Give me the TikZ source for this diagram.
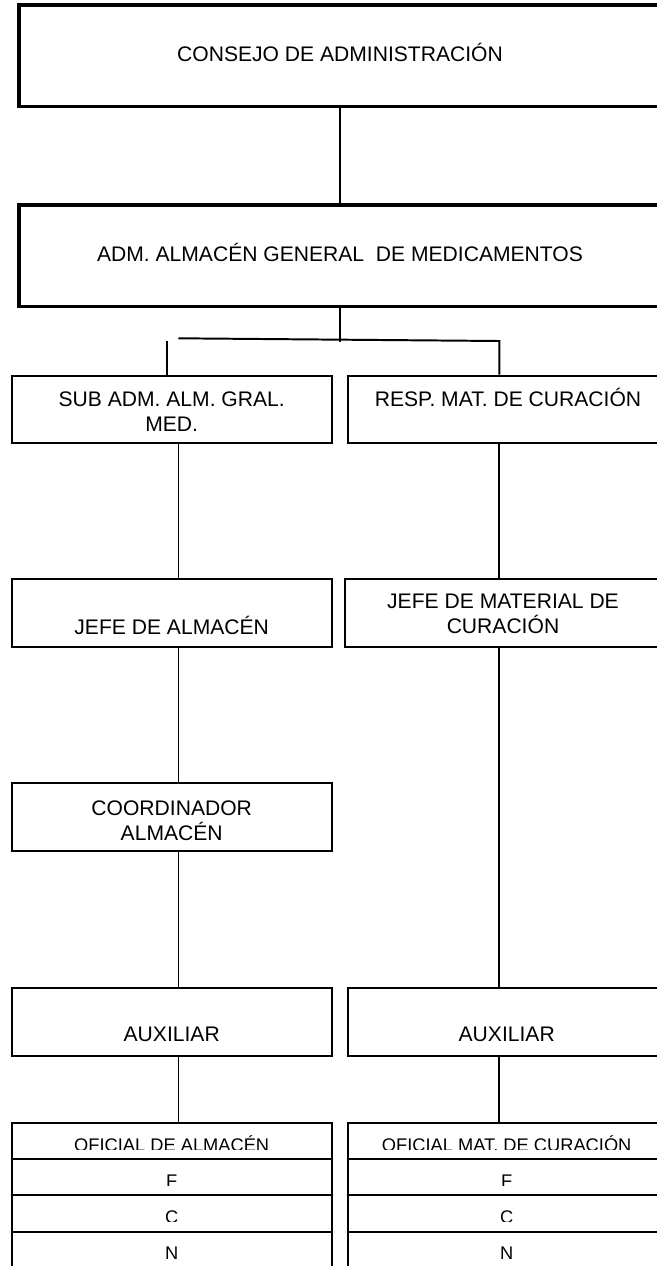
\documentclass[tikz,border=0pt]{standalone}
\usepackage{fontspec}
\setmainfont{Liberation Sans}
\usepackage{tikz}
\usetikzlibrary{calc,positioning,fit}

\tikzset{
  cajagruesa/.style={draw, line width=4.7pt, inner sep=0pt},
  caja/.style={draw, line width=2.8pt, inner sep=0pt},
  linea/.style={line width=2.8pt},
  txt/.style={font=\fontsize{30}{35.5}\selectfont, align=center, anchor=base, inner sep=0pt},
  celdatxt/.style={font=\fontsize{26}{30}\selectfont, anchor=base, inner sep=0pt}
}

\begin{document}
\begin{tikzpicture}[x=0.05cm,y=-0.05cm]
\useasboundingbox (0,0) rectangle (657,1266);
\clip (0,0) rectangle (657,1266);
\fill[white] (0,0) rectangle (657,1266);

\coordinate (colI) at (178.5,0);
\coordinate (colD) at (499.3,0);

\node[cajagruesa, fit={(19,5) (661,106.7)}] (consejo) {};
\node[txt] (consejoT) at (340,61.7) {CONSEJO DE ADMINISTRACIÓN};
\node[cajagruesa, fit={(19,205) (661,306.7)}] (adm) {};
\node[txt] (admT) at (340,261.7) {ADM. ALMACÉN GENERAL\ \ DE MEDICAMENTOS};

\node[caja, fit={(11.7,375.7) (331.7,442.7)}] (subadm) {};
\node[txt] (subadmT) at (171.7,431) {SUB ADM. ALM. GRAL.\\MED.};
\node[caja, fit={(348.3,375.7) (665,442.7)}] (resp) {};
\node[txt] (respT) at (508,406) {RESP. MAT. DE CURACIÓN};

\node[caja, fit={(11.7,579.3) (331.7,647.3)}] (jefealm) {};
\node[txt] (jefealmT) at (171.7,634) {JEFE DE ALMACÉN};
\node[caja, fit={(344.8,579.3) (665,647.3)}] (jefemat) {};
\node[txt] (jefematT) at (503,633) {JEFE DE MATERIAL DE\\CURACIÓN};

\node[caja, fit={(11.7,783.3) (331.7,851)}] (coord) {};
\node[txt] (coordT) at (171.7,840) {COORDINADOR\\ALMACÉN};

\node[caja, fit={(11.7,987.7) (331.7,1055.7)}] (auxI) {};
\node[txt] (auxIT) at (171.7,1041.7) {AUXILIAR};
\node[caja, fit={(348.3,987.7) (665,1055.7)}] (auxD) {};
\node[txt] (auxDT) at (506.7,1041.7) {AUXILIAR};

\foreach \t/\ya/\yb [count=\i] in {OFICIAL DE ALMACÉN/1123.3/1159.3, F/1159.3/1195, C/1195/1231.7, N/1231.7/1272} {
  \node[caja, fit={(11.7,\ya) (331.7,\yb)}] (ofiI\i) {};
  \begin{scope}
    \clip (11.7,\ya) rectangle (331.7,\yb-10);
    \node[celdatxt] (ofiIT\i) at (171.7,\ya+28) {\t};
  \end{scope}
}
\foreach \t/\ya/\yb [count=\i] in {OFICIAL MAT. DE CURACIÓN/1123.3/1159.3, F/1159.3/1195, C/1195/1231.7, N/1231.7/1272} {
  \node[caja, fit={(348.3,\ya) (665,\yb)}] (ofiD\i) {};
  \begin{scope}
    \clip (348.3,\ya) rectangle (665,\yb-10);
    \node[celdatxt] (ofiDT\i) at (506.7,\ya+28) {\t};
  \end{scope}
}

\coordinate (ramaI) at (178.3,338.3);
\coordinate (ramaD) at (499.3,341);
\coordinate (ramaIz) at (166.7,340.7);
\draw[linea] (consejo.south) -- (adm.north);
\draw[linea] (adm.south) -- (adm.south |- 0,341.7);
\draw[linea] (ramaI) -- (ramaD) -- (resp.north -| ramaD);
\draw[linea] (ramaIz) -- (subadm.north -| ramaIz);

\draw[linea] (subadm.south -| colI) -- (jefealm.north -| colI);
\draw[linea] (jefealm.south -| colI) -- (coord.north -| colI);
\draw[linea] (coord.south -| colI) -- (auxI.north -| colI);
\draw[linea] (auxI.south -| colI) -- (ofiI1.north -| colI);

\draw[linea] (resp.south -| colD) -- (jefemat.north -| colD);
\draw[linea] (jefemat.south -| colD) -- (auxD.north -| colD);
\draw[linea] (auxD.south -| colD) -- (ofiD1.north -| colD);
\end{tikzpicture}
\end{document}
